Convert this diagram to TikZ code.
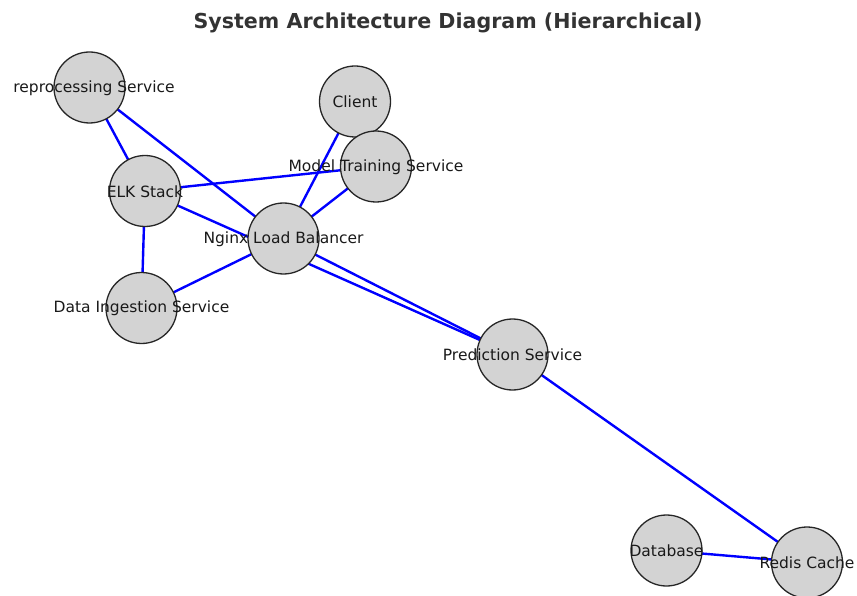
\documentclass[tikz,border=0pt]{standalone}
\usepackage{fontspec}
\setmainfont{DejaVu Sans}
\usetikzlibrary{backgrounds}
\definecolor{nodegray}{RGB}{211,211,211}
\definecolor{titlegray}{RGB}{51,51,51}
\definecolor{edgeblue}{RGB}{0,0,255}
\tikzset{
  svc/.style={circle, draw=black!85, line width=1.3pt, fill=nodegray, minimum size=71pt, inner sep=0pt},
  lbl/.style={inner sep=0pt, text=black!90, font=\fontsize{15.5}{18}\selectfont},
  link/.style={draw=edgeblue, line width=2.4pt}
}
\begin{document}
\begin{tikzpicture}[x=1pt,y=-1pt]
\useasboundingbox (0,0) rectangle (857,596);
\node[anchor=center, text=titlegray, font=\bfseries\fontsize{20.6}{24}\selectfont, inner sep=0pt] (title) at (448,22.5) {System Architecture Diagram (Hierarchical)};
% service circles
\node[svc] (prep) at (89.5,87.5) {};
\node[svc] (client) at (355,101.5) {};
\node[svc] (model) at (376,166.5) {};
\node[svc] (elk) at (145,191) {};
\node[svc] (nginx) at (283.5,238.5) {};
\node[svc] (ingest) at (141.5,308) {};
\node[svc] (pred) at (512.5,354.5) {};
\node[svc] (db) at (666.5,550.5) {};
\node[svc] (redis) at (807,562.5) {};
% connectors
\begin{pgfonlayer}{background}
\draw[link] (prep.center) -- (elk.center);
\draw[link] (prep.center) -- (nginx.center);
\draw[link] (client.center) -- (nginx.center);
\draw[link] (model.center) -- (nginx.center);
\draw[link] (elk.center) -- (model.center);
\draw[link] (elk.center) -- (pred.center);
\draw[link] (elk.center) -- (ingest.center);
\draw[link] (ingest.center) -- (nginx.center);
\draw[link] (nginx.center) -- (pred.center);
\draw[link] (pred.center) -- (redis.center);
\draw[link] (db.center) -- (redis.center);
\end{pgfonlayer}
% labels
\node[lbl] (prep-l) at (94,88) {reprocessing Service};
\node[lbl] (client-l) at ([yshift=-0.5pt]client.center) {Client};
\node[lbl] (model-l) at ([yshift=-0.5pt]model.center) {Model Training Service};
\node[lbl] (elk-l) at ([yshift=-0.5pt]elk.center) {ELK Stack};
\node[lbl] (nginx-l) at ([yshift=-0.5pt]nginx.center) {Nginx Load Balancer};
\node[lbl] (ingest-l) at ([yshift=-0.5pt]ingest.center) {Data Ingestion Service};
\node[lbl] (pred-l) at ([yshift=-0.5pt]pred.center) {Prediction Service};
\node[lbl] (db-l) at ([yshift=-0.5pt]db.center) {Database};
\node[lbl] (redis-l) at ([yshift=-0.5pt]redis.center) {Redis Cache};
\end{tikzpicture}
\end{document}
